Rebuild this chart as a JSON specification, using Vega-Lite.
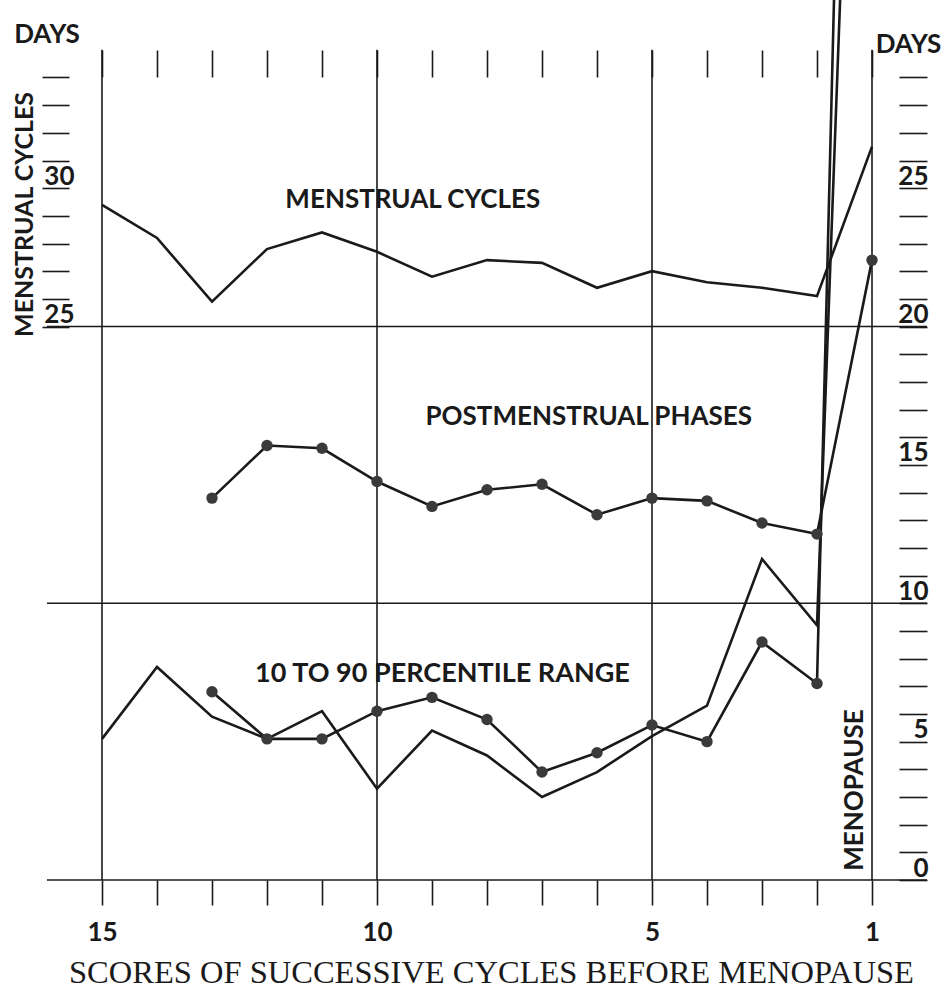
{
  "$schema": "https://vega.github.io/schema/vega-lite/v6.json",
  "width": 880,
  "height": 880,
  "autosize": "none",
  "padding": {"left": 47, "top": 0, "right": 20, "bottom": 109},
  "background": "white",
  "config": {
    "view": {"stroke": null},
    "axis": {
      "labelFont": "Lato", "labelFontWeight": "bold", "labelColor": "#1a1a1a",
      "tickColor": "#1a1a1a", "tickWidth": 1.6,
      "titleFont": "Lato", "titleFontWeight": "bold", "titleColor": "#1a1a1a",
      "grid": false, "domain": false
    },
    "text": {"font": "Lato", "fontWeight": "bold", "color": "#1a1a1a"}
  },
  "data": {
    "values": [
      {"cycle": 15, "series": "Menstrual cycles", "days": 29.4},
      {"cycle": 14, "series": "Menstrual cycles", "days": 28.2},
      {"cycle": 13, "series": "Menstrual cycles", "days": 25.9},
      {"cycle": 12, "series": "Menstrual cycles", "days": 27.8},
      {"cycle": 11, "series": "Menstrual cycles", "days": 28.4},
      {"cycle": 10, "series": "Menstrual cycles", "days": 27.7},
      {"cycle": 9, "series": "Menstrual cycles", "days": 26.8},
      {"cycle": 8, "series": "Menstrual cycles", "days": 27.4},
      {"cycle": 7, "series": "Menstrual cycles", "days": 27.3},
      {"cycle": 6, "series": "Menstrual cycles", "days": 26.4},
      {"cycle": 5, "series": "Menstrual cycles", "days": 27.0},
      {"cycle": 4, "series": "Menstrual cycles", "days": 26.6},
      {"cycle": 3, "series": "Menstrual cycles", "days": 26.4},
      {"cycle": 2, "series": "Menstrual cycles", "days": 26.1},
      {"cycle": 1, "series": "Menstrual cycles", "days": 31.5},

      {"cycle": 13, "series": "Postmenstrual phases", "days": 13.8},
      {"cycle": 12, "series": "Postmenstrual phases", "days": 15.7},
      {"cycle": 11, "series": "Postmenstrual phases", "days": 15.6},
      {"cycle": 10, "series": "Postmenstrual phases", "days": 14.4},
      {"cycle": 9, "series": "Postmenstrual phases", "days": 13.5},
      {"cycle": 8, "series": "Postmenstrual phases", "days": 14.1},
      {"cycle": 7, "series": "Postmenstrual phases", "days": 14.3},
      {"cycle": 6, "series": "Postmenstrual phases", "days": 13.2},
      {"cycle": 5, "series": "Postmenstrual phases", "days": 13.8},
      {"cycle": 4, "series": "Postmenstrual phases", "days": 13.7},
      {"cycle": 3, "series": "Postmenstrual phases", "days": 12.9},
      {"cycle": 2, "series": "Postmenstrual phases", "days": 12.5},
      {"cycle": 1, "series": "Postmenstrual phases", "days": 22.4},

      {"cycle": 15, "series": "Range, menstrual cycles", "days": 5.1},
      {"cycle": 14, "series": "Range, menstrual cycles", "days": 7.7},
      {"cycle": 13, "series": "Range, menstrual cycles", "days": 5.9},
      {"cycle": 12, "series": "Range, menstrual cycles", "days": 5.1},
      {"cycle": 11, "series": "Range, menstrual cycles", "days": 6.1},
      {"cycle": 10, "series": "Range, menstrual cycles", "days": 3.3},
      {"cycle": 9, "series": "Range, menstrual cycles", "days": 5.4},
      {"cycle": 8, "series": "Range, menstrual cycles", "days": 4.5},
      {"cycle": 7, "series": "Range, menstrual cycles", "days": 3.0},
      {"cycle": 6, "series": "Range, menstrual cycles", "days": 3.9},
      {"cycle": 5, "series": "Range, menstrual cycles", "days": 5.2},
      {"cycle": 4, "series": "Range, menstrual cycles", "days": 6.3},
      {"cycle": 3, "series": "Range, menstrual cycles", "days": 11.6},
      {"cycle": 2, "series": "Range, menstrual cycles", "days": 9.2},
      {"cycle": 1, "series": "Range, menstrual cycles", "days": 63},

      {"cycle": 13, "series": "Range, postmenstrual phases", "days": 6.8},
      {"cycle": 12, "series": "Range, postmenstrual phases", "days": 5.1},
      {"cycle": 11, "series": "Range, postmenstrual phases", "days": 5.1},
      {"cycle": 10, "series": "Range, postmenstrual phases", "days": 6.1},
      {"cycle": 9, "series": "Range, postmenstrual phases", "days": 6.6},
      {"cycle": 8, "series": "Range, postmenstrual phases", "days": 5.8},
      {"cycle": 7, "series": "Range, postmenstrual phases", "days": 3.9},
      {"cycle": 6, "series": "Range, postmenstrual phases", "days": 4.6},
      {"cycle": 5, "series": "Range, postmenstrual phases", "days": 5.6},
      {"cycle": 4, "series": "Range, postmenstrual phases", "days": 5.0},
      {"cycle": 3, "series": "Range, postmenstrual phases", "days": 8.6},
      {"cycle": 2, "series": "Range, postmenstrual phases", "days": 7.1},
      {"cycle": 1, "series": "Range, postmenstrual phases", "days": 87}
    ]
  },
  "layer": [
    {
      "transform": [{"filter": "datum.series === 'Menstrual cycles'"}],
      "mark": {"type": "line", "stroke": "#1a1a1a", "strokeWidth": 2.6},
      "encoding": {
        "x": {"field": "cycle", "type": "quantitative", "scale": {"domain": [0, 16], "reverse": true, "nice": false, "zero": false}, "axis": null},
        "y": {
          "field": "days", "type": "quantitative",
          "scale": {"domain": [5, 36.8], "nice": false, "zero": false},
          "axis": {
            "orient": "left", "offset": -22, "tickSize": 27,
            "values": [25, 26, 27, 28, 29, 30, 31, 32, 33, 34],
            "labelExpr": "datum.value % 5 === 0 ? datum.label : ''",
            "labelFontSize": 26, "labelAlign": "right", "labelBaseline": "alphabetic",
            "labelPadding": -32, "labelOffset": -4,
            "title": "MENSTRUAL CYCLES", "titleFontSize": 25, "titleAngle": -90,
            "titleX": -37, "titleY": 214, "titleAlign": "center", "titleBaseline": "alphabetic"
          }
        }
      }
    },
    {
      "data": {"values": [{"d": 0}, {"d": 10}, {"d": 20}]},
      "mark": {"type": "rule", "stroke": "#1a1a1a", "strokeWidth": 1.6},
      "encoding": {
        "y": {"field": "d", "type": "quantitative", "scale": {"domain": [0, 31.8], "nice": false, "zero": false}, "axis": null}
      }
    },
    {
      "data": {"values": [{"c": 15}, {"c": 10}, {"c": 5}, {"c": 1}]},
      "mark": {"type": "rule", "stroke": "#1a1a1a", "strokeWidth": 1.6},
      "encoding": {
        "x": {
          "field": "c", "type": "quantitative",
          "scale": {"domain": [0, 16], "reverse": true, "nice": false, "zero": false},
          "axis": {
            "orient": "top", "offset": -77, "tickSize": 27,
            "values": [1, 2, 3, 4, 5, 6, 7, 8, 9, 10, 11, 12, 13, 14, 15],
            "labels": false, "title": null
          }
        },
        "y": {"datum": 0, "type": "quantitative", "scale": {"domain": [0, 31.8], "nice": false, "zero": false}, "axis": null},
        "y2": {"datum": 30}
      }
    },
    {
      "transform": [{"filter": "datum.series === 'Range, menstrual cycles'"}],
      "mark": {"type": "line", "stroke": "#1a1a1a", "strokeWidth": 2.6},
      "encoding": {
        "x": {
          "field": "cycle", "type": "quantitative",
          "scale": {"domain": [0, 16], "reverse": true, "nice": false, "zero": false},
          "axis": {
            "orient": "bottom", "tickSize": 25,
            "values": [1, 2, 3, 4, 5, 6, 7, 8, 9, 10, 11, 12, 13, 14, 15],
            "labelExpr": "datum.value === 15 || datum.value === 10 || datum.value === 5 || datum.value === 1 ? datum.label : ''",
            "labelFontSize": 26, "labelBaseline": "alphabetic", "labelPadding": 35,
            "title": "SCORES OF SUCCESSIVE CYCLES BEFORE MENOPAUSE",
            "titleFont": "Liberation Serif", "titleFontWeight": "normal", "titleFontSize": 32.5,
            "titleX": 444, "titleY": 102, "titleAlign": "center", "titleAnchor": "middle", "titleBaseline": "alphabetic"
          }
        },
        "y": {"field": "days", "type": "quantitative", "scale": {"domain": [0, 31.8], "nice": false, "zero": false}, "axis": null}
      }
    },
    {
      "transform": [{"filter": "datum.series === 'Postmenstrual phases' || datum.series === 'Range, postmenstrual phases'"}],
      "mark": {
        "type": "line", "stroke": "#1a1a1a", "strokeWidth": 2.6,
        "point": {"filled": true, "size": 130, "color": "#3a3a3a"}
      },
      "encoding": {
        "x": {"field": "cycle", "type": "quantitative", "axis": null},
        "y": {
          "field": "days", "type": "quantitative",
          "scale": {"domain": [0, 31.8], "nice": false, "zero": false},
          "axis": {
            "orient": "right", "offset": -28, "tickSize": 28,
            "values": [0, 1, 2, 3, 4, 5, 6, 7, 8, 9, 10, 11, 12, 13, 14, 15, 16, 17, 18, 19, 20, 21, 22, 23, 24, 25, 26, 27, 28, 29],
            "labelExpr": "datum.value % 5 === 0 ? datum.label : ''",
            "labelFontSize": 26, "labelAlign": "right", "labelBaseline": "alphabetic",
            "labelPadding": 1, "labelOffset": -4,
            "title": "DAYS", "titleFontSize": 26, "titleAngle": 0,
            "titleX": 9, "titleY": 52, "titleAlign": "center", "titleBaseline": "alphabetic"
          }
        },
        "detail": {"field": "series", "type": "nominal"}
      }
    },
    {
      "data": {"values": [{}]},
      "mark": {"type": "text", "text": "DAYS", "fontSize": 26, "align": "center", "baseline": "alphabetic"},
      "encoding": {
        "x": {"datum": 16, "type": "quantitative", "axis": null},
        "y": {"datum": 30.25, "type": "quantitative", "scale": {"domain": [0, 31.8], "nice": false, "zero": false}, "axis": null}
      }
    },
    {
      "data": {"values": [{}]},
      "mark": {"type": "text", "text": "MENSTRUAL CYCLES", "fontSize": 26, "align": "center", "baseline": "alphabetic"},
      "encoding": {
        "x": {"datum": 9.35, "type": "quantitative", "axis": null},
        "y": {"datum": 24.3, "type": "quantitative", "scale": {"domain": [0, 31.8], "nice": false, "zero": false}, "axis": null}
      }
    },
    {
      "data": {"values": [{}]},
      "mark": {"type": "text", "text": "POSTMENSTRUAL PHASES", "fontSize": 26, "align": "center", "baseline": "alphabetic"},
      "encoding": {
        "x": {"datum": 6.15, "type": "quantitative", "axis": null},
        "y": {"datum": 16.44, "type": "quantitative", "scale": {"domain": [0, 31.8], "nice": false, "zero": false}, "axis": null}
      }
    },
    {
      "data": {"values": [{}]},
      "mark": {"type": "text", "text": "10 TO 90 PERCENTILE RANGE", "fontSize": 27, "align": "center", "baseline": "alphabetic"},
      "encoding": {
        "x": {"datum": 8.81, "type": "quantitative", "axis": null},
        "y": {"datum": 7.16, "type": "quantitative", "scale": {"domain": [0, 31.8], "nice": false, "zero": false}, "axis": null}
      }
    },
    {
      "data": {"values": [{}]},
      "mark": {"type": "text", "text": "MENOPAUSE", "fontSize": 26, "align": "center", "baseline": "alphabetic", "angle": 270},
      "encoding": {
        "x": {"datum": 1.164, "type": "quantitative", "axis": null},
        "y": {"datum": 3.25, "type": "quantitative", "scale": {"domain": [0, 31.8], "nice": false, "zero": false}, "axis": null}
      }
    }
  ],
  "resolve": {"scale": {"y": "independent"}, "axis": {"y": "independent"}}
}
